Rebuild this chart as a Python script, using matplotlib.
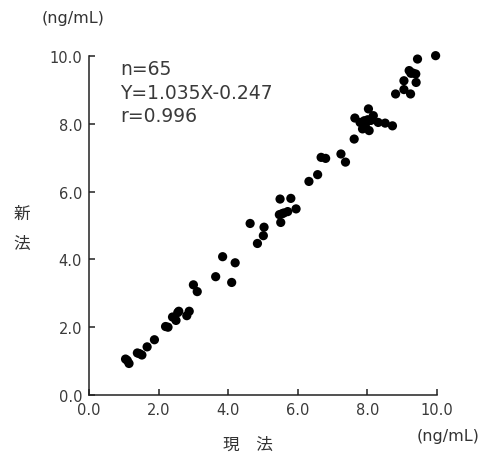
import matplotlib
matplotlib.use("Agg")
import matplotlib.pyplot as plt

plt.rcParams['font.family'] = ['DejaVu Sans', 'Noto Sans CJK JP']

# 現法 (x) vs 新法 (y), ng/mL
current_method = [
    1.05, 1.15, 1.10, 1.39, 1.52, 1.45, 1.67, 1.88, 2.20, 2.27, 2.40, 2.50,
    2.58, 2.55, 2.81, 2.88, 3.00, 3.11,
    3.64, 3.84, 4.10, 4.20, 4.63, 4.84, 5.01, 5.03,
    5.49, 5.80, 5.47, 5.60, 5.71, 5.51, 5.95, 5.55,
    6.32, 6.57, 6.67, 6.80, 7.24, 7.37, 7.62,
    7.64, 7.79, 7.91, 8.01, 7.86, 8.05, 8.03, 8.17, 8.31, 8.51, 8.72, 7.95, 8.10,
    8.81, 9.05, 9.05, 9.20, 9.25, 9.39, 9.24, 9.40, 9.44, 9.96, 9.30,
]
new_method = [
    1.06, 0.93, 1.02, 1.24, 1.18, 1.22, 1.42, 1.63, 2.02, 2.00, 2.30, 2.20,
    2.47, 2.43, 2.34, 2.47, 3.25, 3.05,
    3.49, 4.08, 3.32, 3.90, 5.06, 4.47, 4.70, 4.95,
    5.78, 5.80, 5.32, 5.37, 5.41, 5.09, 5.49, 5.35,
    6.30, 6.50, 7.01, 6.98, 7.11, 6.87, 7.55,
    8.17, 8.04, 8.09, 8.12, 7.85, 7.80, 8.44, 8.24, 8.04, 8.02, 7.94, 8.00, 8.10,
    8.88, 9.27, 9.01, 9.57, 9.49, 9.47, 8.88, 9.22, 9.91, 10.01, 9.50,
]
ticks = [0, 2, 4, 6, 8, 10]
tick_labels = ["0.0", "2.0", "4.0", "6.0", "8.0", "10.0"]
stats_text = "n=65\nY=1.035X-0.247\nr=0.996"

fig = plt.figure(figsize=(4.83, 4.64), dpi=100)
ax = fig.add_axes([89/483, 68/464, (437-89)/483, (396-57)/464])
ax.scatter(current_method, new_method, s=44, color='black', edgecolors='none',
           zorder=3, clip_on=False)

ax.set_xlim(0, 10)
ax.set_ylim(0, 10)
ax.set_xticks(ticks)
ax.set_yticks(ticks)
ax.set_xticklabels(tick_labels)
ax.set_yticklabels(tick_labels)
for s in ['top', 'right']:
    ax.spines[s].set_visible(False)
for s in ['left', 'bottom']:
    ax.spines[s].set_linewidth(1.1)
    ax.spines[s].set_color('#222222')
ax.tick_params(direction='in', length=4, width=1.1, colors='#222222',
               labelsize=10.5, labelcolor='#3a3a3a', pad=5)

ax.text(0.09, 0.99, stats_text, transform=ax.transAxes, ha='left', va='top',
        fontsize=13.5, color='#3a3a3a', linespacing=1.3)

fig.text(73/483, 1 - 18/464, "(ng/mL)", ha='center', va='center', fontsize=11.5, color='#333333')
fig.text(448/483, 1 - 437/464, "(ng/mL)", ha='center', va='center', fontsize=11.5, color='#333333')
fig.text(248/483, 1 - 445/464, "現　法", ha='center', va='center', fontsize=12,
         color='#333333', family='Noto Sans CJK JP')
fig.text(22/483, 1 - 229/464, "新\n\n法", ha='center', va='center', fontsize=12,
         color='#333333', linespacing=0.85, family='Noto Sans CJK JP')

fig.savefig("out.png", dpi=100, facecolor='white')
